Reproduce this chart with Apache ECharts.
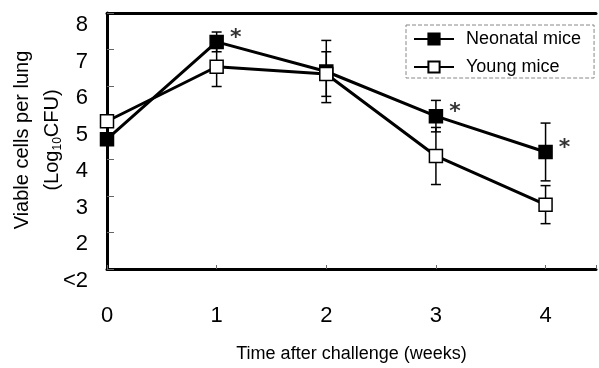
<!DOCTYPE html>
<html><head><meta charset="utf-8">
<script src="https://cdn.jsdelivr.net/npm/echarts@6/dist/echarts.min.js"></script>
<style>html,body{margin:0;padding:0;background:#fff}#c{width:599px;height:368px}</style>
</head><body><div id="c"></div>
<script>
var weeks = [0, 1, 2, 3, 4];
var neonatal = [4.55, 7.21, 6.40, 5.18, 4.20];
var neonatalErr = [0.12, 0.27, 0.85, 0.43, 0.79];
var young = [5.04, 6.53, 6.33, 4.09, 2.76];
var youngErr = [0.10, 0.54, 0.61, 0.78, 0.52];
var starWeeks = [1, 3, 4];
var yTicks = ['<2', '2', '3', '4', '5', '6', '7', '8'];
var seriesNames = ['Neonatal mice', 'Young mice'];

var FONT = 'Arial, "Liberation Sans", sans-serif';
var chart = echarts.init(document.getElementById('c'), null, {renderer: 'canvas'});

function pairs(xs, ys) { return xs.map(function (x, i) { return [x, ys[i]]; }); }
function errData(xs, ys, es) { return xs.map(function (x, i) { return [x, ys[i] - es[i], ys[i] + es[i]]; }); }

function errRender(params, api) {
  var x = api.value(0);
  var lo = api.coord([x, api.value(1)]);
  var hi = api.coord([x, api.value(2)]);
  var w = 5;
  var st = {stroke: '#000', lineWidth: 1.5};
  return {type: 'group', children: [
    {type: 'line', shape: {x1: lo[0], y1: lo[1], x2: hi[0], y2: hi[1]}, style: st},
    {type: 'line', shape: {x1: lo[0] - w, y1: lo[1], x2: lo[0] + w, y2: lo[1]}, style: st},
    {type: 'line', shape: {x1: hi[0] - w, y1: hi[1], x2: hi[0] + w, y2: hi[1]}, style: st}
  ]};
}

var starData = starWeeks.map(function (w) { return [w, neonatal[weeks.indexOf(w)]]; });

chart.setOption({
  animation: false,
  backgroundColor: '#fff',
  textStyle: {fontFamily: FONT},
  grid: {left: 107, right: 0, top: 13, bottom: 97},
  legend: {
    data: seriesNames,
    orient: 'vertical',
    left: 406, top: 25,
    padding: [5, 13, 2, 7],
    itemWidth: 40, itemHeight: 14, itemGap: 10,
    borderColor: '#888', borderWidth: 1, borderType: 'dashed',
    textStyle: {fontSize: 18, color: '#000', fontFamily: FONT, padding: [0, 0, 0, 7]}
  },
  xAxis: [{
    type: 'value', min: 0, max: 4.46, interval: 1,
    name: 'Time after challenge (weeks)', nameLocation: 'middle', nameGap: 76,
    nameTextStyle: {fontSize: 18, color: '#000', fontFamily: FONT},
    axisLine: {lineStyle: {color: '#000', width: 3}},
    axisTick: {inside: true, length: 4, lineStyle: {color: '#666', width: 1}},
    axisLabel: {fontSize: 22, color: '#000', margin: 36, fontFamily: FONT,
      formatter: function (v) { return Math.abs(v - Math.round(v)) < 1e-6 ? String(Math.round(v)) : ''; }},
    splitLine: {show: false}
  }, {
    type: 'value', min: 0, max: 4.46, position: 'top',
    axisLine: {show: true, onZero: false, lineStyle: {color: '#000', width: 3}},
    axisTick: {show: false}, axisLabel: {show: false}, splitLine: {show: false}
  }],
  yAxis: {
    type: 'value', min: 1, max: 8, interval: 1,
    axisLine: {show: true, lineStyle: {color: '#000', width: 3}},
    axisTick: {inside: true, length: 7, lineStyle: {color: '#666', width: 1}},
    axisLabel: {fontSize: 22, color: '#000', margin: 19, verticalAlign: 'top', padding: [1, 0, 0, 0], fontFamily: FONT,
      formatter: function (v) { return yTicks[Math.round(v) - 1]; }},
    splitLine: {show: false}
  },
  graphic: [
    {type: 'text', x: 22, y: 140, rotation: Math.PI / 2,
      style: {text: 'Viable cells per lung', font: '20px ' + FONT, fill: '#000', align: 'center', verticalAlign: 'middle'}},
    {type: 'text', x: 52, y: 140, rotation: Math.PI / 2,
      style: {text: '{a|(Log}{s|10}{a|CFU)}', align: 'center', verticalAlign: 'middle', fill: '#000',
        rich: {a: {fontSize: 20, fontFamily: FONT, lineHeight: 24, verticalAlign: 'middle'},
               s: {fontSize: 12, fontFamily: FONT, lineHeight: 24, verticalAlign: 'bottom', padding: [6, 0, 0, 0]}}}}
  ],
  series: [
    {type: 'custom', name: 'errN', renderItem: errRender, data: errData(weeks, neonatal, neonatalErr), z: 1, silent: true},
    {type: 'custom', name: 'errY', renderItem: errRender, data: errData(weeks, young, youngErr), z: 1, silent: true},
    {type: 'line', name: seriesNames[0], data: pairs(weeks, neonatal), symbol: 'rect', symbolSize: 13,
      itemStyle: {color: '#000', borderColor: '#000', borderWidth: 1.5},
      lineStyle: {color: '#000', width: 3}, z: 3},
    {type: 'line', name: seriesNames[1], data: pairs(weeks, young), symbol: 'rect', symbolSize: 13,
      itemStyle: {color: '#fff', borderColor: '#000', borderWidth: 1.5},
      lineStyle: {color: '#000', width: 3}, z: 4},
    {type: 'scatter', name: 'stars', data: starData, symbolSize: 1, itemStyle: {color: 'rgba(0,0,0,0)'}, z: 5,
      label: {show: true, formatter: '*', position: 'inside', offset: [19, -4], fontSize: 22, fontWeight: 'bold', color: '#000', fontFamily: '"DejaVu Sans", sans-serif'}}
  ]
});
</script>
</body></html>
